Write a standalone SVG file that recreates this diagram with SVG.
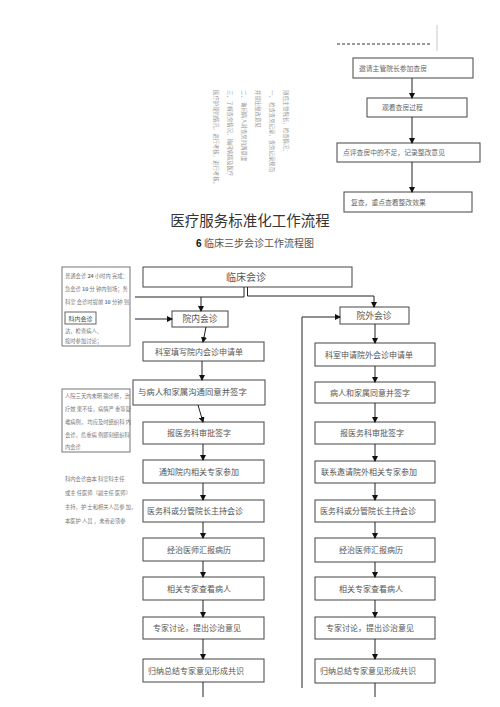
<svg xmlns="http://www.w3.org/2000/svg" width="500" height="707" viewBox="0 0 500 707">
<style>
text{font-family:"Noto Sans CJK SC","Noto Sans",sans-serif;}
.bx{fill:#fff;stroke:#555;stroke-width:1.1;}
.t8{font-size:8px;fill:#555;}
.t7{font-size:6.8px;fill:#666;}
.tn{font-size:5.3px;fill:#777;}
.tr{font-size:5.4px;fill:#999;}
.ln{fill:none;stroke:#222;stroke-width:1;}
.mid{text-anchor:middle;}
</style>
<defs>
<marker id="ah" markerUnits="userSpaceOnUse" markerWidth="6" markerHeight="6" refX="5" refY="3" orient="auto">
<path d="M0,0 L6,3 L0,6 z" fill="#111"/>
</marker>
</defs>
<rect width="500" height="707" fill="#fff"/>

<!-- top right -->
<line x1="337" y1="44" x2="432" y2="44" stroke="#333" stroke-width="1" stroke-dasharray="3,2"/>
<line x1="437" y1="25" x2="437" y2="51" stroke="#bbb" stroke-width="0.8"/>
<g id="n-invite"><rect class="bx" x="353" y="58" width="120" height="20"/><text class="t7" x="359" y="70.5">邀请主管院长参加查房</text></g>
<g id="n-watch"><rect class="bx" x="367" y="98" width="100" height="19"/><text class="t7" x="382" y="110">观看查房过程</text></g>
<g id="n-comment"><rect class="bx" x="337" y="143" width="143" height="19"/><text class="t7" x="343" y="155">点评查房中的不足，记录整改意见</text></g>
<g id="n-recheck"><rect class="bx" x="344" y="192" width="128" height="20"/><text class="t7" x="351" y="204.5">复查，重点查看整改效果</text></g>

<!-- rotated notes -->
<g id="rot-notes" class="tr">
<text transform="translate(284,90) rotate(90)">随后主管院长，检查情况：</text>
<text transform="translate(270,90) rotate(90)">一、 检查查房记录，查房记录规范</text>
<text transform="translate(256,90) rotate(90)">并提出整改意见</text>
<text transform="translate(242,90) rotate(90)">二、 询问病人对查房的满意度</text>
<text transform="translate(228,90) rotate(90)">三、了解查房情况，询问病情及医疗</text>
<text transform="translate(214,90) rotate(90)">医疗护理的情况，进行考核，进行考核。</text>
</g>

<!-- titles -->
<text x="250" y="226" class="mid" style="font-size:14.5px;fill:#333;">医疗服务标准化工作流程</text>
<text x="255" y="247" class="mid" style="font-size:10px;fill:#555;"><tspan style="font-weight:bold;fill:#111;font-family:'Liberation Sans',sans-serif;">6</tspan> 临床三步会诊工作流程图</text>

<!-- left notes -->
<g id="note-time">
<rect x="62" y="267" width="68" height="79" fill="none" stroke="#666" stroke-width="0.9"/>
<g class="tn">
<text x="65" y="278">普通会诊 <tspan font-weight="bold">24</tspan> 小时内 完成：</text>
<text x="65" y="291">急会诊 <tspan font-weight="bold">10</tspan> 分 钟内到场；务</text>
<text x="65" y="304">科室 会诊时提前 <tspan font-weight="bold">10</tspan> 分钟 到</text>
<text x="65" y="333">达，检查病人、</text>
<text x="65" y="343">按时参加讨论；</text>
</g>
</g>
<g id="n-kenei">
<rect x="65" y="312" width="31" height="12" fill="#fff" stroke="#555" stroke-width="0.9"/>
<text x="80.5" y="320.5" class="mid" style="font-size:6px;fill:#444;">科内会诊</text>
</g>
<g id="note-difficult">
<rect x="62" y="389" width="68" height="63" fill="none" stroke="#666" stroke-width="0.9"/>
<g class="tn">
<text x="65" y="398">人院三天内未明 确诊断，治</text>
<text x="65" y="411">疗效 果不佳，病情严 重等疑</text>
<text x="65" y="424">难病例， 均应及时组织科 内</text>
<text x="65" y="437">会诊，危重病 例即刻组织科</text>
<text x="65" y="449">内会诊</text>
</g>
</g>
<g id="note-host" class="tn">
<text x="65" y="481">科内会诊由本 科室科主任</text>
<text x="65" y="495">或主 任医师（副主任 医师）</text>
<text x="65" y="509">主持，护 士和相关人员参 加，</text>
<text x="65" y="523">本医护 人员 ，未者必须参</text>
</g>

<!-- main nodes -->
<g id="n-clinic"><rect class="bx" x="143" y="267" width="209" height="20"/><text x="246" y="280.5" class="mid" style="font-size:10px;fill:#555;">临床会诊</text></g>

<g id="n-inner"><rect class="bx" x="172" y="311" width="56" height="16"/><text x="200" y="322" class="mid" style="font-size:8.8px;fill:#555;">院内会诊</text></g>
<g id="n-i1"><rect class="bx" x="143" y="342" width="121" height="19"/><text x="199" y="354.5" class="mid t8">科室填写院内会诊申请单</text></g>
<g id="n-i2"><rect class="bx" x="133" y="380" width="132" height="25"/><text x="138" y="395" class="t8" style="font-size:8.4px">与病人和家属沟通同意并签字</text></g>
<g id="n-i3"><rect class="bx" x="143" y="422" width="121" height="22"/><text x="199" y="436" class="mid t8">报医务科审批签字</text></g>
<g id="n-i4"><rect class="bx" x="143" y="460" width="121" height="23"/><text x="199" y="474.5" class="mid t8">通知院内相关专家参加</text></g>
<g id="n-i5"><rect class="bx" x="143" y="500" width="121" height="22"/><text x="195" y="514" class="mid t8">医务科或分管院长主持会诊</text></g>
<g id="n-i6"><rect class="bx" x="143" y="538" width="121" height="23"/><text x="199" y="552.5" class="mid t8">经治医师汇报病历</text></g>
<g id="n-i7"><rect class="bx" x="143" y="577" width="121" height="23"/><text x="199" y="591.5" class="mid t8">相关专家查看病人</text></g>
<g id="n-i8"><rect class="bx" x="143" y="617" width="121" height="22"/><text x="197" y="631" class="mid t8">专家讨论，提出诊治意见</text></g>
<g id="n-i9"><rect class="bx" x="143" y="659" width="121" height="23"/><text x="196" y="673.5" class="mid t8">归纳总结专家意见形成共识</text></g>

<g id="n-outer"><rect class="bx" x="340" y="307" width="69" height="17"/><text x="374" y="318.5" class="mid" style="font-size:8.8px;fill:#555;">院外会诊</text></g>
<g id="n-o1"><rect class="bx" x="315" y="343" width="120" height="23"/><text x="369" y="357.5" class="mid t8">科室申请院外会诊申请单</text></g>
<g id="n-o2"><rect class="bx" x="315" y="382" width="120" height="21"/><text x="370" y="395.5" class="mid t8">病人和家属同意并签字</text></g>
<g id="n-o3"><rect class="bx" x="315" y="422" width="120" height="22"/><text x="372" y="436" class="mid t8">报医务科审批签字</text></g>
<g id="n-o4"><rect class="bx" x="315" y="461" width="120" height="22"/><text x="369" y="475" class="mid t8">联系邀请院外相关专家参加</text></g>
<g id="n-o5"><rect class="bx" x="315" y="500" width="120" height="22"/><text x="368" y="514" class="mid t8">医务科或分管院长主持会诊</text></g>
<g id="n-o6"><rect class="bx" x="315" y="538" width="120" height="24"/><text x="371" y="553" class="mid t8">经治医师汇报病历</text></g>
<g id="n-o7"><rect class="bx" x="315" y="577" width="120" height="23"/><text x="371" y="591.5" class="mid t8">相关专家查看病人</text></g>
<g id="n-o8"><rect class="bx" x="315" y="617" width="120" height="22"/><text x="370" y="631" class="mid t8">专家讨论，提出诊治意见</text></g>
<g id="n-o9"><rect class="bx" x="315" y="659" width="120" height="24"/><text x="368" y="674" class="mid t8">归纳总结专家意见形成共识</text></g>

<!-- connectors -->
<g id="connectors">
<line class="ln" x1="412" y1="78" x2="412" y2="98" marker-end="url(#ah)"/>
<line class="ln" x1="412" y1="117" x2="412" y2="143" marker-end="url(#ah)"/>
<line class="ln" x1="412" y1="162" x2="412" y2="192" marker-end="url(#ah)"/>

<polyline class="ln" points="244,287 244,297 135,297"/>
<line class="ln" x1="201" y1="297" x2="201" y2="311" marker-end="url(#ah)"/>
<polyline class="ln" points="247.5,287 247.5,296 374,296 374,307" marker-end="url(#ah)"/>
<line class="ln" x1="135" y1="319" x2="172" y2="319" marker-end="url(#ah)"/>

<line class="ln" x1="206" y1="327" x2="203" y2="342" marker-end="url(#ah)"/>
<line class="ln" x1="202" y1="361" x2="202" y2="380" marker-end="url(#ah)"/>
<line class="ln" x1="198" y1="405" x2="203" y2="422" marker-end="url(#ah)"/>
<line class="ln" x1="203" y1="444" x2="203" y2="460" marker-end="url(#ah)"/>
<line class="ln" x1="203" y1="483" x2="203" y2="500" marker-end="url(#ah)"/>
<line class="ln" x1="203" y1="522" x2="203" y2="538" marker-end="url(#ah)"/>
<line class="ln" x1="203" y1="561" x2="203" y2="577" marker-end="url(#ah)"/>
<line class="ln" x1="203" y1="600" x2="203" y2="617" marker-end="url(#ah)"/>
<line class="ln" x1="203" y1="639" x2="203" y2="659" marker-end="url(#ah)"/>
<line class="ln" x1="203" y1="682" x2="203" y2="697"/>

<line class="ln" x1="375" y1="324" x2="375" y2="343" marker-end="url(#ah)"/>
<line class="ln" x1="375" y1="366" x2="375" y2="382" marker-end="url(#ah)"/>
<line class="ln" x1="375" y1="403" x2="375" y2="422" marker-end="url(#ah)"/>
<line class="ln" x1="375" y1="444" x2="375" y2="461" marker-end="url(#ah)"/>
<line class="ln" x1="375" y1="483" x2="375" y2="500" marker-end="url(#ah)"/>
<line class="ln" x1="375" y1="522" x2="375" y2="538" marker-end="url(#ah)"/>
<line class="ln" x1="375" y1="562" x2="375" y2="577" marker-end="url(#ah)"/>
<line class="ln" x1="375" y1="600" x2="375" y2="617" marker-end="url(#ah)"/>
<line class="ln" x1="375" y1="639" x2="375" y2="659" marker-end="url(#ah)"/>
<line class="ln" x1="375" y1="683" x2="375" y2="697"/>

<polyline class="ln" points="302,688 302,317 340,317" marker-end="url(#ah)"/>
</g>
</svg>
